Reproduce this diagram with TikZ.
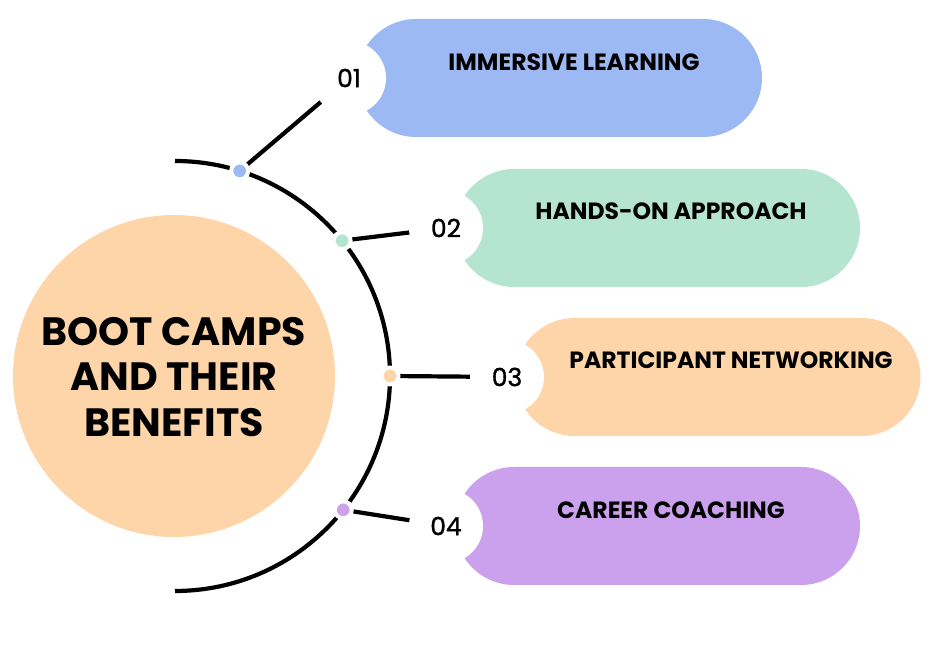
\documentclass[tikz,border=0pt]{standalone}
\usepackage{fontspec}
\setmainfont{Poppins}
\newfontfamily\numfont{Poppins}[FakeBold=1.3]
\usetikzlibrary{shapes.misc,calc}
\definecolor{cblue}{HTML}{9DB9F3}
\definecolor{cgreen}{HTML}{B5E4D1}
\definecolor{corange}{HTML}{FED5A8}
\definecolor{cpurple}{HTML}{CBA1EE}
\begin{document}
\begin{tikzpicture}[x=1pt,y=1pt,
  pill/.style={rounded rectangle, minimum width=405pt, minimum height=118pt, inner sep=0pt},
  numcirc/.style={circle, fill=white, minimum size=74pt, inner sep=0pt, font=\numfont\fontsize{25}{25}\selectfont},
  dotnode/.style={circle, draw=white, line width=4pt, minimum size=17pt, inner sep=0pt},
  ptext/.style={font=\bfseries\fontsize{23.5}{24}\selectfont, inner sep=0pt},
  conn/.style={line width=4.2pt, black}]
\useasboundingbox (0,0) rectangle (947,669);
% pills
\node[pill, fill=cblue]   (p1) at (559.5,591) {};
\node[pill, fill=cgreen]  (p2) at (657.5,441) {};
\node[pill, fill=corange] (p3) at (718,292) {};
\node[pill, fill=cpurple] (p4) at (657.5,143) {};
% hub
\node[circle, fill=corange, minimum size=322pt, inner sep=0pt] (hub) at (174,293) {};
\node[align=center, font=\bfseries\fontsize{39.5}{45.5}\selectfont] (hubtxt) at (174,292) {BOOT CAMPS\\AND THEIR\\BENEFITS};
% arc
\coordinate (ac) at (175,293);
\coordinate (atop) at ($(ac)+(90:215)$);
\draw[conn] (atop) arc[start angle=90, end angle=-90, radius=215pt] coordinate (abot);
% dot positions
\coordinate (d1) at ($(ac)+(72.5:215)$);
\coordinate (d2) at ($(ac)+(39:215)$);
\coordinate (d3) at ($(ac)+(0:215)$);
\coordinate (d4) at ($(ac)+(-38.5:215)$);
% number circle positions
\coordinate (c1) at (349,591);
\coordinate (c2) at (446,441);
\coordinate (c3) at (507,292);
\coordinate (c4) at (446,143);
% connectors
\draw[conn] (d1) -- (c1);
\draw[conn] (d2) -- (c2);
\draw[conn] (d3) -- (c3);
\draw[conn] (d4) -- (c4);
% number circles
\node[numcirc] (n1) at (c1) {01};
\node[numcirc] (n2) at (c2) {02};
\node[numcirc] (n3) at (c3) {03};
\node[numcirc] (n4) at (c4) {04};
% dots
\node[dotnode, fill=cblue]   (o1) at (d1) {};
\node[dotnode, fill=cgreen]  (o2) at (d2) {};
\node[dotnode, fill=corange] (o3) at (d3) {};
\node[dotnode, fill=cpurple] (o4) at (d4) {};
% pill texts
\node[ptext] (t1) at (574,607) {IMMERSIVE LEARNING};
\node[ptext] (t2) at (671,458) {HANDS-ON APPROACH};
\node[ptext] (t3) at (731,309) {PARTICIPANT NETWORKING};
\node[ptext] (t4) at (671,159) {CAREER COACHING};
\end{tikzpicture}
\end{document}
